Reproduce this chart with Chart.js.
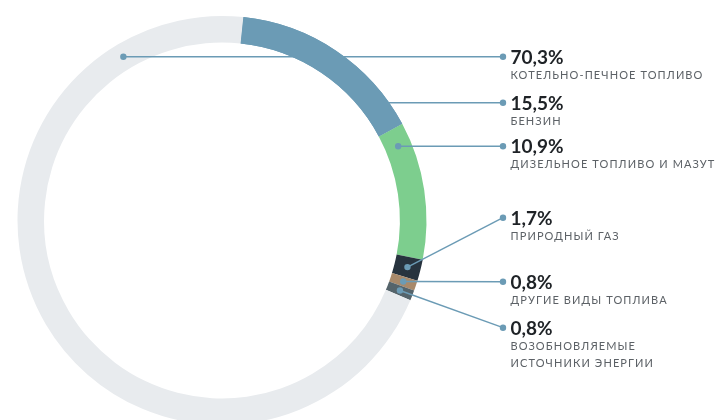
<!DOCTYPE html>
<html lang="ru">
<head>
<meta charset="utf-8">
<script src="https://cdn.jsdelivr.net/npm/chart.js@4.4.1/dist/chart.umd.min.js"></script>
<style>
  html, body { margin: 0; padding: 0; background: #fff; overflow: hidden; }
  #wrap { width: 719px; height: 420px; overflow: hidden; position: relative; }
  canvas { display: block; }
</style>
</head>
<body>
<div id="wrap"><canvas id="chart" width="719" height="450"></canvas></div>
<script>
// Fuel structure, % (clockwise from the top)
const categories = [
  'БЕНЗИН',
  'ДИЗЕЛЬНОЕ ТОПЛИВО И МАЗУТ',
  'ПРИРОДНЫЙ ГАЗ',
  'ДРУГИЕ ВИДЫ ТОПЛИВА',
  'ВОЗОБНОВЛЯЕМЫЕ\nИСТОЧНИКИ ЭНЕРГИИ',
  'КОТЕЛЬНО-ПЕЧНОЕ ТОПЛИВО'
];
const shares = [15.5, 10.9, 1.7, 0.8, 0.8, 70.3];
const sliceColors = ['#6b9bb5', '#7dce8e', '#27333e', '#a8896a', '#55646b', '#e8ebee'];

// Order of the callouts on the right, top to bottom (indices into categories)
const calloutOrder = [5, 0, 1, 2, 3, 4];
// Baselines of the percentage text for each callout
const calloutBaselines = [63.5, 109.5, 153, 224.5, 288.5, 334.5];
// Callouts whose leader runs horizontally; the rest aim at the slice middle
const horizontalLeader = [true, true, true, false, false, false];

const fmt = v => v.toFixed(1).replace('.', ',') + '%';

const leaderColor = '#6b9bb5';
const dotX = 503;
const textX = 510.5;

const callouts = {
  id: 'callouts',
  afterDatasetsDraw(chart) {
    const ctx = chart.ctx;
    const arcs = chart.getDatasetMeta(0).data;
    const anchors = calloutOrder.map((idx, k) => {
      const a = arcs[idx];
      const midR = (a.innerRadius + a.outerRadius) / 2;
      const dy = calloutBaselines[k] - 6.8;
      if (horizontalLeader[k]) {
        const ry = dy - a.y;
        let dx = Math.sqrt(Math.max(midR * midR - ry * ry, 0));
        // pick the side of the ring that lies inside this slice
        const angR = Math.atan2(ry, dx);
        const inSlice = ang => {
          let s = a.startAngle, e = a.endAngle, t = ang;
          while (t < s) t += Math.PI * 2;
          return t <= e;
        };
        if (!inSlice(angR)) dx = -dx;
        return { x: a.x + dx, y: dy, ty: dy };
      }
      const mid = (a.startAngle + a.endAngle) / 2;
      return { x: a.x + Math.cos(mid) * midR, y: a.y + Math.sin(mid) * midR, ty: dy };
    });

    ctx.save();
    ctx.strokeStyle = leaderColor;
    ctx.lineWidth = 1.4;
    anchors.forEach(p => {
      ctx.beginPath();
      ctx.moveTo(p.x, p.y);
      ctx.lineTo(dotX, p.ty);
      ctx.stroke();
    });
    ctx.restore();

    // the petrol slice sits above the leader lines
    arcs[0].draw(ctx);

    ctx.save();
    ctx.fillStyle = leaderColor;
    anchors.forEach((p, k) => {
      if (calloutOrder[k] !== 0) {
        ctx.beginPath();
        ctx.arc(p.x, p.y, 3.2, 0, Math.PI * 2);
        ctx.fill();
      }
      ctx.beginPath();
      ctx.arc(dotX, p.ty, 3.2, 0, Math.PI * 2);
      ctx.fill();
    });

    calloutOrder.forEach((idx, k) => {
      const base = calloutBaselines[k];
      ctx.fillStyle = '#1e2226';
      ctx.font = 'bold 19px Lato';
      ctx.letterSpacing = '0px';
      ctx.textBaseline = 'alphabetic';
      ctx.textAlign = 'left';
      ctx.fillText(fmt(shares[idx]), textX, base);
      ctx.fillStyle = '#5c6166';
      ctx.font = '11px Lato';
      ctx.letterSpacing = '1.1px';
      categories[idx].split('\n').forEach((line, j) => {
        ctx.fillText(line, textX, base + 15.3 + j * 16.7);
      });
    });
    ctx.restore();
  }
};

new Chart(document.getElementById('chart'), {
  type: 'doughnut',
  data: {
    labels: categories,
    datasets: [{
      data: shares,
      backgroundColor: sliceColors,
      borderWidth: 0,
      hoverOffset: 0
    }]
  },
  options: {
    responsive: false,
    animation: false,
    rotation: 6,
    cutout: '87%',
    layout: { padding: { left: 17.5, right: 292.5, top: 16, bottom: 25 } },
    events: [],
    plugins: { legend: { display: false }, tooltip: { enabled: false } }
  },
  plugins: [callouts]
});
</script>
</body>
</html>
